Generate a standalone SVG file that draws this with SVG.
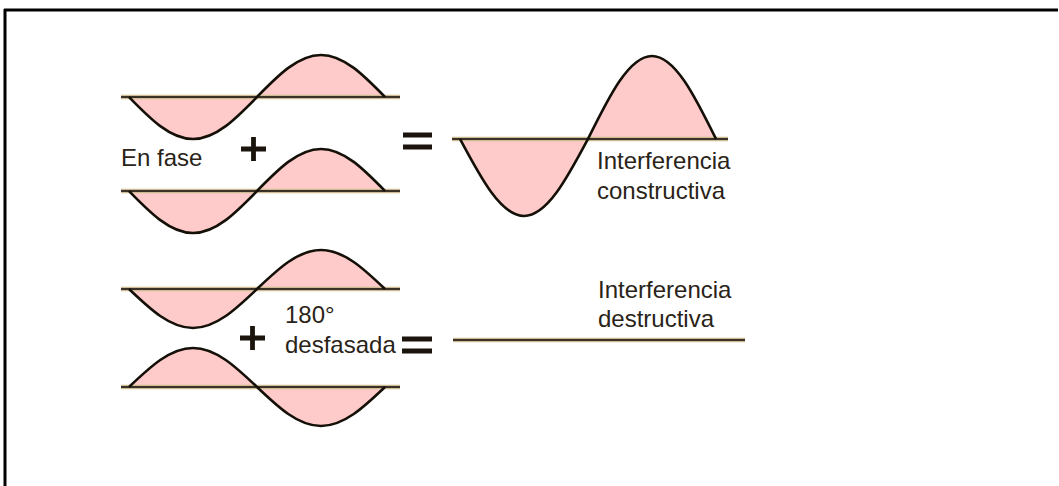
<svg xmlns="http://www.w3.org/2000/svg" width="1059" height="486" viewBox="0 0 1059 486">
<style>
.fill{fill:#ffcaca;stroke:none}
.wave{fill:none;stroke:#141008;stroke-width:2.6;stroke-linejoin:round}
.base-halo{stroke:#cdbb94;stroke-width:4.5;fill:none}
.base{stroke:#3a3128;stroke-width:1.8;fill:none}
.txt{font-family:"Liberation Sans",Arial,sans-serif;font-size:24px;fill:#2a2318}
.op{stroke:#1a140c;stroke-width:4.8;fill:none}
.border{stroke:#000;stroke-width:3;fill:none}
</style>
<rect width="1059" height="486" fill="#fff"/>
<g id="frame">
<line class="border" x1="4" y1="10" x2="1058" y2="10"/>
<line class="border" x1="5" y1="9" x2="5" y2="486"/>
</g>
<g id="wave1">
<path class="fill" d="M129,97 C150,118.5 170,139 193,139 C216,139 236,118.5 257,97 C278,75.5 298,55 321,55 C344,55 364,75.5 385,97 Z"/>
<line class="base-halo" x1="121" y1="97" x2="400" y2="97"/>
<line class="base" x1="121" y1="97" x2="400" y2="97"/>
<path class="wave" d="M129,97 C150,118.5 170,139 193,139 C216,139 236,118.5 257,97 C278,75.5 298,55 321,55 C344,55 364,75.5 385,97"/>
</g>
<g id="wave2">
<path class="fill" d="M129,191 C150,212.5 170,233 193,233 C216,233 236,212.5 257,191 C278,169.5 298,149 321,149 C344,149 364,169.5 385,191 Z"/>
<line class="base-halo" x1="121" y1="191" x2="400" y2="191"/>
<line class="base" x1="121" y1="191" x2="400" y2="191"/>
<path class="wave" d="M129,191 C150,212.5 170,233 193,233 C216,233 236,212.5 257,191 C278,169.5 298,149 321,149 C344,149 364,169.5 385,191"/>
</g>
<g id="wave-constructive">
<path class="fill" d="M460,139 C481,178.4 501,216 524,216 C547,216 567,178.4 588,139 C609,96.5 629,56 652,56 C675,56 695,96.5 716,139 Z"/>
<line class="base-halo" x1="452" y1="139" x2="728" y2="139"/>
<line class="base" x1="452" y1="139" x2="728" y2="139"/>
<path class="wave" d="M460,139 C481,178.4 501,216 524,216 C547,216 567,178.4 588,139 C609,96.5 629,56 652,56 C675,56 695,96.5 716,139"/>
</g>
<g id="wave3">
<path class="fill" d="M129,289 C150,309 170,328 193,328 C216,328 236,309 257,289 C278,269 298,250 321,250 C344,250 364,269 385,289 Z"/>
<line class="base-halo" x1="121" y1="289" x2="400" y2="289"/>
<line class="base" x1="121" y1="289" x2="400" y2="289"/>
<path class="wave" d="M129,289 C150,309 170,328 193,328 C216,328 236,309 257,289 C278,269 298,250 321,250 C344,250 364,269 385,289"/>
</g>
<g id="wave4">
<path class="fill" d="M129,387 C150,367 170,348 193,348 C216,348 236,367 257,387 C278,407 298,426 321,426 C344,426 364,407 385,387 Z"/>
<line class="base-halo" x1="121" y1="387" x2="400" y2="387"/>
<line class="base" x1="121" y1="387" x2="400" y2="387"/>
<path class="wave" d="M129,387 C150,367 170,348 193,348 C216,348 236,367 257,387 C278,407 298,426 321,426 C344,426 364,407 385,387"/>
</g>
<g id="wave-destructive">
<line class="base-halo" x1="453" y1="340" x2="745" y2="340"/>
<line class="base" x1="453" y1="340" x2="745" y2="340"/>
</g>
<g id="operators">
<path class="op" d="M241,149 H266 M253.5,137 V161"/>
<path class="op" d="M403,135 H432 M403,147 H432"/>
<path class="op" d="M240,338 H265 M252.5,326 V350"/>
<path class="op" d="M402,339 H432 M402,351 H432"/>
</g>
<g id="labels">
<text class="txt" x="121" y="166">En fase</text>
<text class="txt" x="597" y="169">Interferencia</text>
<text class="txt" x="597" y="199">constructiva</text>
<text class="txt" x="285" y="323">180°</text>
<text class="txt" x="285" y="353">desfasada</text>
<text class="txt" x="598" y="298">Interferencia</text>
<text class="txt" x="598" y="327">destructiva</text>
</g>
</svg>
